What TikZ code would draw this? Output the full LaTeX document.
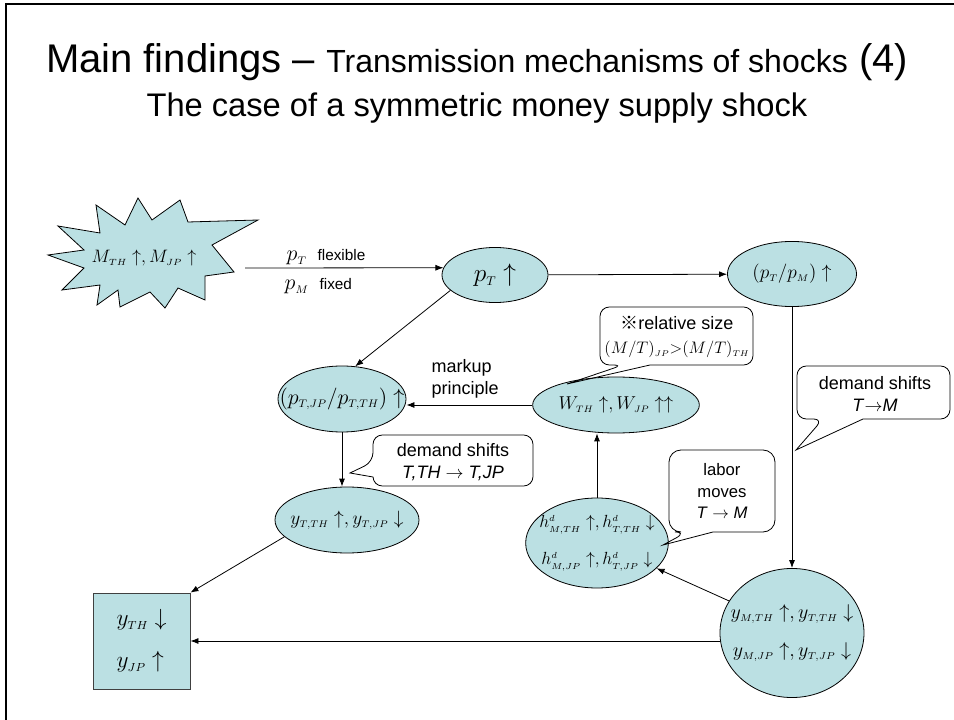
\RequirePackage{fix-cm}
\documentclass[tikz,border=0pt]{standalone}
\usepackage{fontspec}
\setmainfont{Liberation Sans}
\newfontfamily\cjkfont{Noto Sans CJK JP}
\usetikzlibrary{shapes.geometric,arrows.meta}
\definecolor{shockblue}{RGB}{187,224,227}
\newcommand{\slim}[1]{\makebox[0pt]{#1}}
\newcommand{\lo}[1]{_{\scriptscriptstyle #1}}
\newcommand{\hi}[1]{^{\scriptscriptstyle #1}}

\begin{document}
\begin{tikzpicture}[x=0.75pt,y=-0.75pt,
  oval/.style={ellipse,draw,fill=shockblue,line width=0.6pt,inner sep=0pt},
  link/.style={-{Latex[length=6pt,width=4.5pt]},line width=0.6pt},
  bubble/.style={draw,line width=0.6pt,rounded corners=7pt}]
\useasboundingbox (0,0) rectangle (954,720);
\draw[line width=1.5pt] (6,720) -- (6,4) -- (954,4);
%
\node[anchor=base] (title) at (477,73) {\fontsize{30}{36}\selectfont Main findings -- {\fontsize{24}{29}\selectfont Transmission mechanisms of shocks} (4)};
\node[anchor=base] (subtitle) at (477,117) {\fontsize{24.5}{29}\selectfont The case of a symmetric money supply shock};
%
\filldraw[fill=shockblue,line width=0.6pt] (48,255) -- (84,250) -- (58,226) -- (100,233) -- (96,205) -- (125,225) -- (138,198) -- (152,220) -- (180,200) -- (188,222) -- (258,220) -- (212,245) -- (234,272) -- (205,276) -- (205,300) -- (178,288) -- (165,308) -- (150,292) -- (120,307) -- (118,290) -- (97,305) -- (100,285) -- (62,290) -- (84,268) -- cycle;
\node[font=\fontsize{13.5}{16}\selectfont] (shock) at (144,258) {$M\lo{TH}\uparrow, M\lo{JP}\uparrow$};
\coordinate (shockR) at (245,268);
%
\node[oval,minimum width=79.5pt,minimum height=41.3pt,font=\fontsize{19}{23}\selectfont] (pT) at (495,275) {$p\lo{T}\uparrow$};
\node[oval,minimum width=96.8pt,minimum height=48.8pt,font=\fontsize{14.5}{17}\selectfont] (pTM) at (792,274) {\slim{$(p\lo{T}/p\lo{M})\uparrow$}};
\node[oval,minimum width=96pt,minimum height=49.5pt,font=\fontsize{16.5}{19}\selectfont] (pRat) at (342,399) {\slim{$(p\lo{T,JP}/p\lo{T,TH})\uparrow$}};
\node[oval,minimum width=125pt,minimum height=42pt,font=\fontsize{14}{17}\selectfont] (wage) at (616,405) {\slim{$W\lo{TH}\uparrow, W\lo{JP}\uparrow\uparrow$}};
\node[oval,minimum width=108pt,minimum height=49.5pt,font=\fontsize{14.5}{17}\selectfont] (yT) at (347,520) {\slim{$y\lo{T,TH}\uparrow, y\lo{T,JP}\downarrow$}};
\node[oval,minimum width=107pt,minimum height=67.5pt,align=center,font=\fontsize{13.2}{27.75}\selectfont] (hours) at (597,543) {\slim{$h\hi{d}\lo{M,TH}\uparrow, h\hi{d}\lo{T,TH}\downarrow$}\\\slim{$h\hi{d}\lo{M,JP}\uparrow, h\hi{d}\lo{T,JP}\downarrow$}};
\node[oval,minimum width=108pt,minimum height=96.8pt,align=center,font=\fontsize{15}{28.5}\selectfont] (yAll) at (792,633) {\slim{$y\lo{M,TH}\uparrow, y\lo{T,TH}\downarrow$}\\\slim{$y\lo{M,JP}\uparrow, y\lo{T,JP}\downarrow$}};
\node[draw=black!75,fill=shockblue,line width=0.6pt,minimum width=72.8pt,minimum height=72pt,inner sep=0pt,align=left,font=\fontsize{17.5}{31.5}\selectfont] (ybox) at (141.5,641) {$y\lo{TH}\downarrow$\\$y\lo{JP}\uparrow$};
%
\node[anchor=base west] (flexLbl) at (282,261) {\fontsize{16.5}{19}\selectfont$p\lo{T}$\enspace\fontsize{11.5}{14}\selectfont flexible};
\node[anchor=base west] (fixLbl) at (280,290) {\fontsize{16.5}{19}\selectfont$p\lo{M}$\enspace\fontsize{11.5}{14}\selectfont fixed};
\node[anchor=west,align=left,font=\fontsize{13.5}{16.5}\selectfont] (markup) at (427,379) {markup\\principle};
%
\draw[bubble] (676,307) -- (600,307) -- (600,365) -- (623,365) [sharp corners] -- (567,384) -- (650,365) [rounded corners=7pt] -- (753,365) -- (753,307) -- cycle;
\node[align=center,font=\fontsize{13.5}{18}\selectfont] (relNote) at (677,337) {{\cjkfont ※}relative size\\{\fontsize{12.5}{15}\selectfont$(M/T)\lo{JP}{>}(M/T)\lo{TH}$}};
%
\draw[bubble] (873,366) -- (797,366) -- (797,419) -- (823,419) [sharp corners] -- (796,450) -- (863,419) [rounded corners=7pt] -- (950,419) -- (950,366) -- cycle;
\node[align=center,font=\fontsize{13.5}{17}\selectfont] (shiftTM) at (875,394) {demand shifts\\\textit{T}$\rightarrow$\textit{M}};
%
\draw[bubble] (453,435) -- (373,435) -- (373,462) [sharp corners] -- (350,473) -- (373,477) [rounded corners=7pt] -- (373,486) -- (533,486) -- (533,435) -- cycle;
\node[align=center,font=\fontsize{13.5}{17}\selectfont] (shiftTJ) at (453,462) {demand shifts\\\textit{T,TH} $\rightarrow$ \textit{T,JP}};
%
\draw[bubble,rounded corners=9pt] (722,450) -- (669,450) -- (669,532) -- (687,532) [sharp corners] -- (663,545) -- (713,532) [rounded corners=9pt] -- (775,532) -- (775,450) -- cycle;
\node[align=center,font=\fontsize{12.5}{16}\selectfont] (laborNote) at (722,491) {labor\\moves\\\textit{T} $\rightarrow$ \textit{M}};
%
\draw[link] (shockR) -- (pT.172);
\draw[link] (pT) -- (pTM);
\draw[link] (pTM) -- (yAll);
\draw[link] (pT.199) -- (pRat.68);
\draw[link] (wage.west) -- (wage.west -| pRat.east);
\draw[link] (pRat.south) -- (pRat.south |- yT.north);
\draw[link] (hours.north) -- (hours.north |- wage.south);
\draw[link] (yAll.153) -- (hours.-23);
\draw[link] (yAll.west |- ybox.east) -- (ybox.east);
\draw[link] (yT.195) -- (ybox.north east);
\end{tikzpicture}
\end{document}
